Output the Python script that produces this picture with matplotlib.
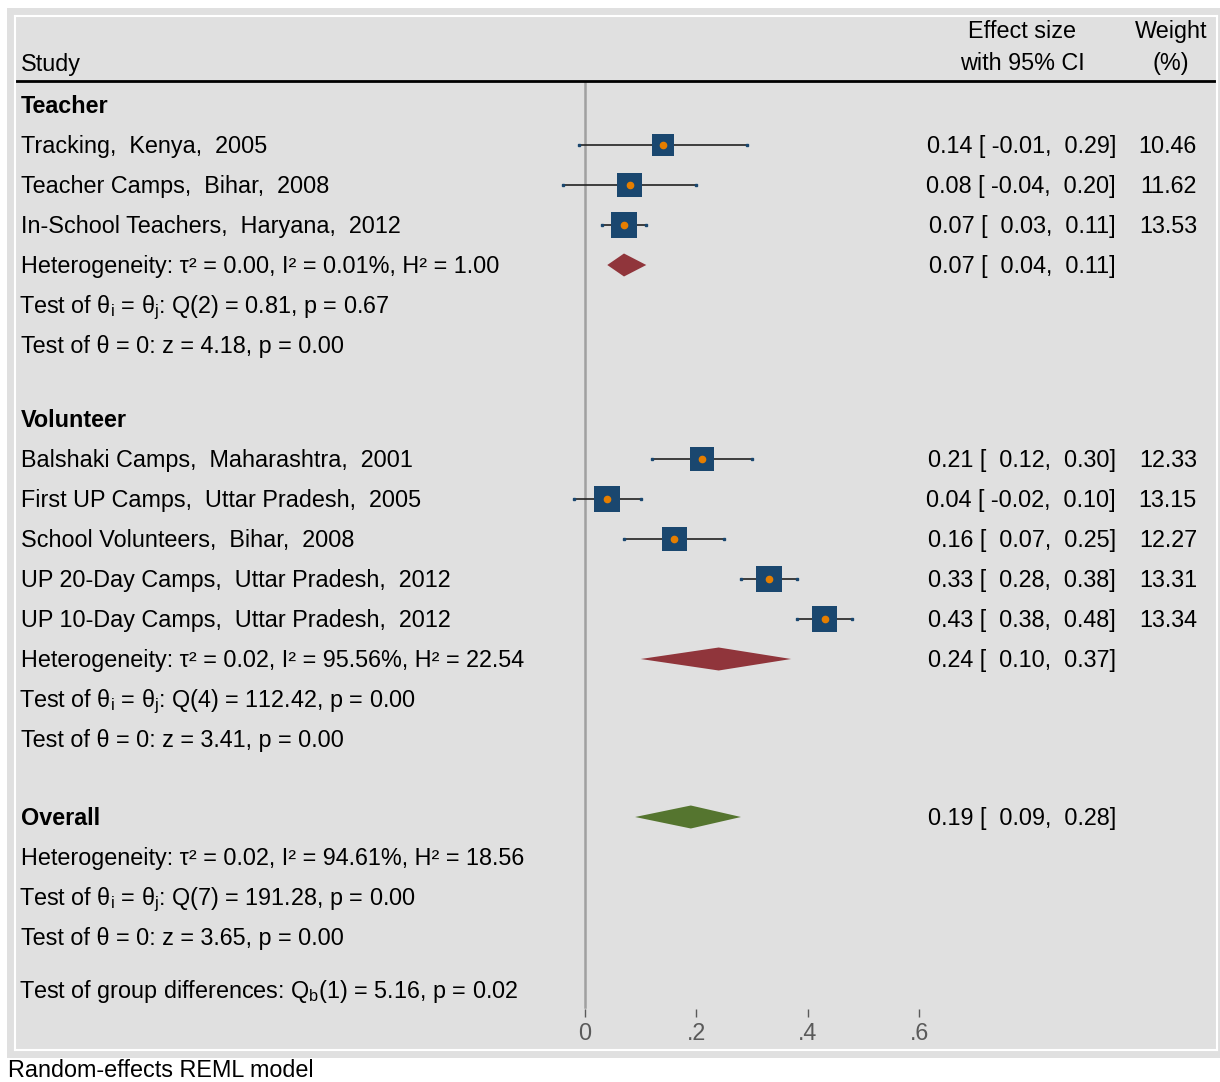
import matplotlib
matplotlib.use("Agg")
import matplotlib.pyplot as plt
from matplotlib.patches import Rectangle
from matplotlib.transforms import blended_transform_factory

plt.rcParams["font.family"] = ["Liberation Sans", "DejaVu Sans"]
plt.rcParams["mathtext.fontset"] = "custom"
plt.rcParams["mathtext.rm"] = "Liberation Sans"
plt.rcParams["mathtext.it"] = "Liberation Sans:italic"
plt.rcParams["mathtext.bf"] = "Liberation Sans:bold"

# ===== data =====
teacher_studies = ["Tracking,  Kenya,  2005",
                   "Teacher Camps,  Bihar,  2008",
                   "In-School Teachers,  Haryana,  2012"]
teacher_es = [0.14, 0.08, 0.07]
teacher_lo = [-0.01, -0.04, 0.03]
teacher_hi = [0.29, 0.20, 0.11]
teacher_w = [10.46, 11.62, 13.53]
teacher_pool = [0.07, 0.04, 0.11]
teacher_stats = ["Heterogeneity: τ² = 0.00, I² = 0.01%, H² = 1.00",
                 r"Test of θ$_\mathregular{i}$ = θ$_\mathregular{j}$: Q(2) = 0.81, p = 0.67",
                 "Test of θ = 0: z = 4.18, p = 0.00"]

vol_studies = ["Balshaki Camps,  Maharashtra,  2001",
               "First UP Camps,  Uttar Pradesh,  2005",
               "School Volunteers,  Bihar,  2008",
               "UP 20-Day Camps,  Uttar Pradesh,  2012",
               "UP 10-Day Camps,  Uttar Pradesh,  2012"]
vol_es = [0.21, 0.04, 0.16, 0.33, 0.43]
vol_lo = [0.12, -0.02, 0.07, 0.28, 0.38]
vol_hi = [0.30, 0.10, 0.25, 0.38, 0.48]
vol_w = [12.33, 13.15, 12.27, 13.31, 13.34]
vol_pool = [0.24, 0.10, 0.37]
vol_stats = ["Heterogeneity: τ² = 0.02, I² = 95.56%, H² = 22.54",
             r"Test of θ$_\mathregular{i}$ = θ$_\mathregular{j}$: Q(4) = 112.42, p = 0.00",
             "Test of θ = 0: z = 3.41, p = 0.00"]

overall_pool = [0.19, 0.09, 0.28]
overall_stats = ["Heterogeneity: τ² = 0.02, I² = 94.61%, H² = 18.56",
                 r"Test of θ$_\mathregular{i}$ = θ$_\mathregular{j}$: Q(7) = 191.28, p = 0.00",
                 "Test of θ = 0: z = 3.65, p = 0.00"]
group_test = r"Test of group differences: Q$_\mathregular{b}$(1) = 5.16, p = 0.02"

xticks = [0, 0.2, 0.4, 0.6]
xtick_labels = ["0", ".2", ".4", ".6"]

# ===== style =====
W, H = 1220, 1082
FS = 16.8
NAVY = "#1a476f"
ORANGE = "#e67e00"
MAROON = "#90353b"
GREEN = "#55752f"
BG = "#e0e0e0"

fig = plt.figure(figsize=(W / 100, H / 100), dpi=100)
fig.patch.set_facecolor("white")
fig.patches.append(Rectangle((7 / W, 1 - 1058 / H), (W - 7) / W, (1058 - 8) / H,
                             transform=fig.transFigure, facecolor=BG,
                             edgecolor="none", zorder=-5))

ax = fig.add_axes([15 / W, 1 - 1050 / H, (1217 - 15) / W, (1050 - 16) / H])
ax.set_zorder(1)
ax.set_facecolor(BG)
for s in ax.spines.values():
    s.set_color("white")
    s.set_linewidth(1.5)
ax.set_xticks([])
ax.set_yticks([])

# x: 0 at px 585, 557 px per unit; y: row units of 40 px, row 0 at px 105
PX0, SC = 585, 557
ax.set_xlim((15 - PX0) / SC, (1217 - PX0) / SC)
ax.set_ylim((1050 - 105) / 40, (16 - 105) / 40)

tr = blended_transform_factory(fig.transFigure, ax.transData)
BASE = 0.21  # half cap height in row units


def txt(xpx, row, s, ha="left", **kw):
    if "$" in s:
        xpx -= 2  # mathtext adds a small left bearing
    ax.text(xpx / W, row + BASE, s, transform=tr, ha=ha, va="baseline",
            fontsize=FS, **kw)


def ci_str(es, lo, hi):
    return f"{es:.2f} [ {lo:5.2f},  {hi:4.2f}]"


def study_row(row, name, es, lo, hi, w):
    txt(21, row, name)
    ax.plot([lo, hi], [row, row], color="#222222", lw=1.2, zorder=2)
    ax.plot([lo, hi], [row, row], ls="none", marker="s", ms=1.6,
            color=NAVY, zorder=3)
    ax.scatter([es], [row], marker="s", s=26.1 * w, color=NAVY,
               edgecolors="none", zorder=4)
    ax.plot([es], [row], marker="o", ms=4.5, color=ORANGE, ls="none", zorder=5)
    txt(1116, row, ci_str(es, lo, hi), ha="right")
    txt(1197, row, f"{w:.2f}", ha="right")


def diamond(row, pool, color):
    es, lo, hi = pool
    hh = 11.5 / 40
    ax.fill([lo, es, hi, es], [row, row - hh, row, row + hh],
            color=color, lw=0, zorder=4)
    txt(1116, row, ci_str(es, lo, hi), ha="right")


# header
txt(21, -1.05, "Study")
ax.text(1022 / W, -1.85, "Effect size", transform=tr, ha="center",
        va="center", fontsize=FS)
ax.text(1022 / W, -1.05, "with 95% CI", transform=tr, ha="center",
        va="center", fontsize=FS)
ax.text(1171 / W, -1.85, "Weight", transform=tr, ha="center",
        va="center", fontsize=FS)
ax.text(1171 / W, -1.05, "(%)", transform=tr, ha="center",
        va="center", fontsize=FS)
ax.axhline(-0.6, color="black", lw=2)

# zero line
ax.plot([0, 0], [(82 - 105) / 40, (1007 - 105) / 40], color="#a0a0a0",
        lw=1.8, zorder=1)

# Teacher group
txt(21, 0, "Teacher", fontweight="bold")
for i in range(len(teacher_studies)):
    study_row(1 + i, teacher_studies[i], teacher_es[i], teacher_lo[i],
              teacher_hi[i], teacher_w[i])
diamond(4, teacher_pool, MAROON)
for i, s in enumerate(teacher_stats):
    txt(21, 4 + i, s)

# Volunteer group
v0 = 7.85
txt(21, v0, "Volunteer", fontweight="bold")
for i in range(len(vol_studies)):
    study_row(v0 + 1 + i, vol_studies[i], vol_es[i], vol_lo[i],
              vol_hi[i], vol_w[i])
diamond(v0 + 6, vol_pool, MAROON)
for i, s in enumerate(vol_stats):
    txt(21, v0 + 6 + i, s)

# Overall
o0 = 17.8
txt(21, o0, "Overall", fontweight="bold")
diamond(o0, overall_pool, GREEN)
for i, s in enumerate(overall_stats):
    txt(21, o0 + 1 + i, s)

txt(21, 22.125, group_test)

# x axis ticks inside plot
ax.vlines(xticks, (1009 - 105) / 40, (1017 - 105) / 40, color="#5a5a5a", lw=1)
for xv, lab in zip(xticks, xtick_labels):
    ax.text(xv, (1033 - 105) / 40, lab, ha="center", va="center",
            fontsize=FS, color="#5a5a5a")

fig.text(8 / W, 1 - 1077 / H, "Random-effects REML model", ha="left",
         va="baseline", fontsize=FS)

fig.savefig("out.png", dpi=100)
